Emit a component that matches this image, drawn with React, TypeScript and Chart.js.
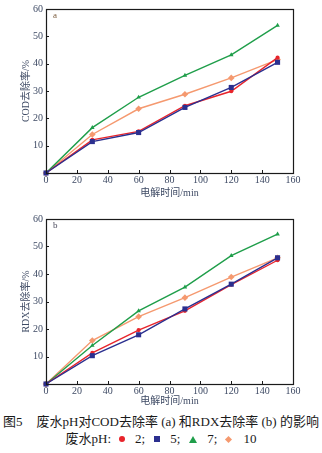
import React, { useEffect, useRef } from "react";
import { Chart, registerables } from "chart.js";

Chart.register(...registerables);

const times = [0, 30, 60, 90, 120, 150];
const xTicks = [0, 20, 40, 60, 80, 100, 120, 140, 160];
const yTicks = [0, 10, 20, 30, 40, 50, 60];

const codPH2 = [0, 12.1, 15.2, 24.6, 29.9, 42.2];
const codPH5 = [0, 11.5, 14.8, 24.0, 31.3, 40.5];
const codPH7 = [0, 16.6, 27.7, 35.7, 43.2, 54.0];
const codPH10 = [0, 14.1, 23.5, 28.8, 34.8, 41.5];

const rdxPH2 = [0, 11.3, 19.6, 26.6, 36.1, 45.0];
const rdxPH5 = [0, 10.3, 17.9, 27.3, 36.3, 45.9];
const rdxPH7 = [0, 14.0, 26.6, 35.2, 46.7, 54.5];
const rdxPH10 = [0, 15.8, 24.5, 31.4, 38.9, 45.9];

const seriesLabels = ["2", "5", "7", "10"];
const xTitle = "电解时间/min";
const codTitle = "COD去除率/%";
const rdxTitle = "RDX去除率/%";

const RED = "#e8242b";
const BLUE = "#2b2f8f";
const GREEN = "#1f9e4a";
const ORANGE = "#f5996f";
const TICK_COLOR = "#3e4a64";
const FONT = '"Liberation Serif", "Noto Sans CJK SC", serif';

function toPts(vals: number[]) {
  return vals.map((v, i) => ({ x: times[i], y: v }));
}

function makeConfig(
  data: number[][],
  yTitle: string,
  panel: string,
  panelColor: string,
  padTop: number,
  xAxisH: number,
  xTitlePad: number
): any {
  const [d2, d5, d7, d10] = data;
  const boxPlugin = {
    id: "boxTicks",
    afterDatasetsDraw(chart: any) {
      const { ctx, chartArea } = chart;
      const { left, right, top, bottom } = chartArea;
      const xs = chart.scales.x;
      const ys = chart.scales.y;
      ctx.save();
      ctx.strokeStyle = "#1a1a1a";
      ctx.lineWidth = 1;
      ctx.beginPath();
      xTicks.forEach((t) => {
        const px = Math.round(xs.getPixelForValue(t)) + 0.5;
        ctx.moveTo(px, bottom);
        ctx.lineTo(px, bottom - 3);
      });
      yTicks.forEach((t) => {
        const py = Math.round(ys.getPixelForValue(t)) + 0.5;
        ctx.moveTo(left, py);
        ctx.lineTo(left + 3, py);
      });
      ctx.stroke();
      ctx.lineWidth = 1.2;
      ctx.strokeRect(Math.round(left) + 0.5, Math.round(top) + 0.5, Math.round(right - left), Math.round(bottom - top));
      ctx.fillStyle = panelColor;
      ctx.font = "9px " + FONT;
      ctx.textBaseline = "middle";
      ctx.textAlign = "left";
      ctx.fillText(panel, left + 7, top + 7);
      ctx.restore();
    },
  };
  const ds = (label: string, vals: number[], color: string, style: string, r: number, order: number) => ({
    label,
    data: toPts(vals),
    borderColor: color,
    backgroundColor: color,
    borderWidth: 1.4,
    pointStyle: style,
    pointRadius: r,
    pointBorderWidth: 0,
    pointBackgroundColor: color,
    tension: 0,
    order,
    clip: false,
  });
  return {
    type: "line",
    data: {
      datasets: [
        ds(seriesLabels[3], d10, ORANGE, "rectRot", 3.3, 4),
        ds(seriesLabels[2], d7, GREEN, "triangle", 2.6, 3),
        ds(seriesLabels[0], d2, RED, "circle", 2.1, 2),
        ds(seriesLabels[1], d5, BLUE, "rect", 3.6, 1),
      ],
    },
    options: {
      animation: false,
      responsive: false,
      maintainAspectRatio: false,
      layout: { padding: { left: 0, top: padTop, right: 29, bottom: 0 } },
      plugins: { legend: { display: false }, tooltip: { enabled: false } },
      scales: {
        x: {
          type: "linear",
          min: 0,
          max: 160,
          afterBuildTicks(scale: any) {
            scale.ticks = xTicks.map((v) => ({ value: v }));
          },
          afterFit(scale: any) {
            scale.height = xAxisH;
          },
          grid: { display: false, drawTicks: false },
          border: { display: false },
          ticks: {
            padding: 1,
            color: TICK_COLOR,
            font: { family: FONT, size: 10 },
            maxRotation: 0,
            autoSkip: false,
          },
          title: {
            display: true,
            text: xTitle,
            color: TICK_COLOR,
            font: { family: FONT, size: 10 },
            padding: { top: 0, bottom: xTitlePad },
          },
        },
        y: {
          type: "linear",
          min: 0,
          max: 60,
          afterBuildTicks(scale: any) {
            scale.ticks = yTicks.map((v) => ({ value: v }));
          },
          afterFit(scale: any) {
            scale.width = 46;
          },
          grid: { display: false, drawTicks: false },
          border: { display: false },
          ticks: {
            padding: 3,
            color: TICK_COLOR,
            font: { family: FONT, size: 10 },
            autoSkip: false,
            callback: (v: any) => (v === 0 ? "" : String(v)),
          },
          title: {
            display: true,
            text: yTitle,
            color: TICK_COLOR,
            font: { family: FONT, size: 10 },
            padding: { top: 20, bottom: 0 },
          },
        },
      },
    },
    plugins: [boxPlugin],
  };
}

function Marker({ kind, color }: { kind: string; color: string }) {
  const base: any = { display: "inline-block", width: 0, height: 0 };
  if (kind === "circle")
    return <span style={{ ...base, width: 6, height: 6, borderRadius: 3, background: color }} />;
  if (kind === "square") return <span style={{ ...base, width: 6, height: 6, background: color }} />;
  if (kind === "triangle")
    return (
      <span
        style={{
          ...base,
          borderLeft: "4px solid transparent",
          borderRight: "4px solid transparent",
          borderBottom: `7px solid ${color}`,
        }}
      />
    );
  return <span style={{ ...base, width: 5, height: 5, background: color, transform: "rotate(45deg)" }} />;
}

export default function App() {
  const ref1 = useRef<HTMLCanvasElement>(null);
  const ref2 = useRef<HTMLCanvasElement>(null);
  useEffect(() => {
    const c1 = new Chart(
      ref1.current as HTMLCanvasElement,
      makeConfig([codPH2, codPH5, codPH7, codPH10], codTitle, "a", "#7a5b3c", 9, 27, 1)
    );
    const c2 = new Chart(
      ref2.current as HTMLCanvasElement,
      makeConfig([rdxPH2, rdxPH5, rdxPH7, rdxPH10], rdxTitle, "b", "#4a4a5c", 19, 26, 3)
    );
    return () => {
      c1.destroy();
      c2.destroy();
    };
  }, []);
  const textFont = '"Liberation Serif", "Noto Sans CJK SC", serif';
  return (
    <div style={{ position: "absolute", left: 0, top: 0, width: 322, height: 453, background: "#fff", overflow: "hidden" }}>
      <canvas ref={ref1} width={322} height={200} style={{ position: "absolute", left: 0, top: 0, width: 322, height: 200 }} />
      <canvas ref={ref2} width={322} height={210} style={{ position: "absolute", left: 0, top: 200, width: 322, height: 210 }} />
      <div
        style={{
          position: "absolute",
          left: 0,
          top: 413,
          width: 322,
          textAlign: "center",
          fontFamily: textFont,
          fontSize: 13,
          lineHeight: "18px",
          color: "#1a1a1a",
          whiteSpace: "nowrap",
        }}
      >
        图5<span style={{ display: "inline-block", width: 14 }} />废水pH对COD去除率 (a) 和RDX去除率 (b) 的影响
      </div>
      <div
        style={{
          position: "absolute",
          left: 0,
          top: 430,
          width: 322,
          display: "flex",
          justifyContent: "center",
          alignItems: "center",
          fontFamily: textFont,
          fontSize: 13,
          lineHeight: "18px",
          color: "#1a1a1a",
          whiteSpace: "nowrap",
        }}
      >
        <span>废水pH:</span>
        <span style={{ marginLeft: 8, marginRight: 10, display: "inline-flex" }}><Marker kind="circle" color={RED} /></span>
        <span>{seriesLabels[0]};</span>
        <span style={{ marginLeft: 9, marginRight: 10, display: "inline-flex" }}><Marker kind="square" color={BLUE} /></span>
        <span>{seriesLabels[1]};</span>
        <span style={{ marginLeft: 9, marginRight: 10, display: "inline-flex" }}><Marker kind="triangle" color={GREEN} /></span>
        <span>{seriesLabels[2]};</span>
        <span style={{ marginLeft: 9, marginRight: 12, display: "inline-flex" }}><Marker kind="diamond" color={ORANGE} /></span>
        <span>{seriesLabels[3]}</span>
      </div>
    </div>
  );
}
